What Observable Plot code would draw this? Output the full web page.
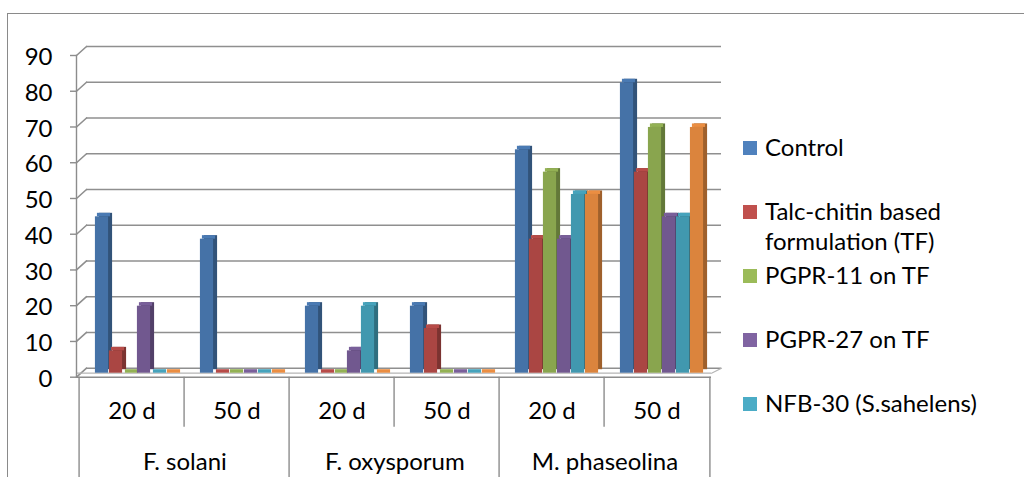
<!DOCTYPE html>
<html>
<head>
<meta charset="utf-8">
<script src="https://cdn.jsdelivr.net/npm/d3@7"></script>
<script src="https://cdn.jsdelivr.net/npm/@observablehq/plot@0.6"></script>
<style>
  html, body { margin: 0; padding: 0; background: #fff; }
  body { width: 1024px; height: 477px; overflow: hidden; position: relative; font-family: Lato, "Open Sans", sans-serif; }
  #chart { position: absolute; left: 0; top: 0; }
  #border { position: absolute; left: 7px; top: 13px; width: 1100px; height: 600px; border: 1px solid #8a8a8a; box-sizing: border-box; pointer-events: none; }
  #legend { position: absolute; left: 743px; top: 0; }
  .item { position: absolute; left: 0; width: 270px; font-size: 24px; line-height: 30px; color: #000; }
  .key { position: absolute; left: 0; top: 9px; width: 14px; height: 14px; }
  .label { margin-left: 22px; }
</style>
</head>
<body>
<div id="chart"></div>
<div id="legend"></div>
<div id="border"></div>
<script>
// Disease incidence (%) by pathogen and sampling day
const pathogens = ["F. solani", "F. oxysporum", "M. phaseolina"];
const days = ["20 d", "50 d"];
const seriesNames = [
  "Control",
  "Talc-chitin based formulation (TF)",
  "PGPR-11 on TF",
  "PGPR-27 on TF",
  "NFB-30 (S.sahelens)",
  "Treatment 6"
];
// one value per pathogen/day group: F. solani 20 d, 50 d, F. oxysporum 20 d, 50 d, M. phaseolina 20 d, 50 d
const control   = [43.75, 37.5, 18.75, 18.75, 62.5, 81.25];
const talcTF    = [6.25, 0, 0, 12.5, 37.5, 56.25];
const pgpr11    = [0, 0, 0, 0, 56.25, 68.75];
const pgpr27    = [18.75, 0, 6.25, 0, 37.5, 43.75];
const nfb30     = [0, 0, 18.75, 0, 50, 43.75];
const treatment6 = [0, 0, 0, 0, 50, 68.75];
const yTicks = [0, 10, 20, 30, 40, 50, 60, 70, 80, 90];

const seriesValues = [control, talcTF, pgpr11, pgpr27, nfb30, treatment6];
const legendCount = 5; // entries visible in the legend box

const frontColors  = ["#4572A7", "#AA4643", "#89A54E", "#71588F", "#4198AF", "#DB843D"];
const legendColors = ["#4F81BD", "#C0504D", "#9BBB59", "#8064A2", "#4BACC6", "#F79646"];
const gridColor = "#8f8f8f";
const axisColor = "#8c8c8c";

// group keys "pathogen|day"
const groupKeys = pathogens.flatMap(p => days.map(d => `${p}|${d}`));
const rows = seriesValues.map((vals, si) =>
  vals.map((v, gi) => ({group: groupKeys[gi], series: seriesNames[si], value: v}))
);

// layout
const W = 1024, H = 477, ML = 76, MR = 313, MT = 55, MB = 100.3;
const bw = (W - ML - MR) / groupKeys.length;
const barW = 14;
const pad = (bw - barW * seriesValues.length) / 2;
const shiftX = 5, shiftY = -4;     // bars sit mid-depth on the floor
const sideX = 4, sideY = -3.5;     // bar extrusion
const wallX = 10, wallY = -9;      // depth of the back wall

const edgeShape = {draw(context, l) { context.moveTo(0, 0); context.lineTo(0, -l); }};
const angle = (dx, dy) => Math.atan2(dx, -dy) * 180 / Math.PI;

const marks = [];

// back wall gridlines and left wall edges
marks.push(Plot.ruleY(yTicks, {dx: wallX, dy: wallY, stroke: gridColor, strokeWidth: 1.6}));
marks.push(Plot.vector(yTicks, {
  y: d => d, frameAnchor: "left", anchor: "start",
  length: Math.hypot(wallX, wallY), rotate: angle(wallX, wallY),
  shape: edgeShape, fill: "none", stroke: gridColor, strokeWidth: 1.6
}));

// floor slab
marks.push(Plot.ruleY([0], {dy: shiftY, stroke: "#b5b5b5", strokeWidth: 1.2}));
marks.push(Plot.vector([0], {
  y: d => d, frameAnchor: "right", anchor: "start", dy: shiftY,
  length: Math.hypot(wallX, wallY - shiftY), rotate: angle(wallX, wallY - shiftY),
  shape: edgeShape, fill: "none", stroke: "#b5b5b5", strokeWidth: 1.2
}));

const insets = i => ({insetLeft: pad + barW * i, insetRight: bw - pad - barW * (i + 1)});

// bar sides (extruded copy)
rows.forEach((data, i) => marks.push(Plot.barY(data, {
  x: "group", y: "value", ...insets(i),
  fill: d3.color(frontColors[i]).darker(0.9).formatHex(),
  dx: shiftX + sideX, dy: shiftY + sideY
})));
// bar tops
rows.forEach((data, i) => marks.push(Plot.barY(data, {
  x: "group", y1: "value", y2: "value", ...insets(i), insetTop: sideY,
  fill: d3.color(frontColors[i]).brighter(0.2).formatHex(),
  dx: shiftX + sideX / 2, dy: shiftY
})));
// bar fronts
rows.forEach((data, i) => marks.push(Plot.barY(data, {
  x: "group", y: "value", ...insets(i),
  fill: frontColors[i], dx: shiftX, dy: shiftY
})));

// value axis
marks.push(Plot.ruleY([0], {stroke: axisColor, strokeWidth: 1.4}));
marks.push(Plot.frame({anchor: "left", stroke: axisColor, strokeWidth: 1.4}));
marks.push(Plot.axisY({ticks: yTicks, tickSize: 6, tickFormat: () => "", stroke: axisColor, strokeWidth: 1.4, label: null}));
marks.push(Plot.text(yTicks, {
  y: d => d, frameAnchor: "left", text: d => String(d),
  textAnchor: "end", dx: -24, dy: 2, fontSize: 24, fill: "#000"
}));

// category separators
const firstDayKeys = groupKeys.filter(k => k.endsWith(days[0]));
const secondDayKeys = groupKeys.filter(k => k.endsWith(days[1]));
marks.push(Plot.axisX({ticks: firstDayKeys, dx: -bw / 2, tickSize: MB, tickFormat: () => "", stroke: axisColor, strokeWidth: 1.4, label: null}));
marks.push(Plot.axisX({ticks: [groupKeys[groupKeys.length - 1]], dx: bw / 2, tickSize: MB, tickFormat: () => "", stroke: axisColor, strokeWidth: 1.4, label: null}));
marks.push(Plot.axisX({ticks: secondDayKeys, dx: -bw / 2, tickSize: MB / 2, tickFormat: () => "", stroke: axisColor, strokeWidth: 1.4, label: null}));

// category labels
marks.push(Plot.axisX({ticks: groupKeys, tickSize: 0, tickPadding: 25, tickFormat: k => k.split("|")[1], fontSize: 24, fill: "#000", label: null}));
marks.push(Plot.axisX({ticks: firstDayKeys, dx: bw / 2, tickSize: 0, tickPadding: 76, tickFormat: k => k.split("|")[0], fontSize: 24, fill: "#000", label: null}));

const chart = Plot.plot({
  width: W, height: H,
  marginLeft: ML, marginRight: MR, marginTop: MT, marginBottom: MB,
  x: {type: "band", domain: groupKeys, padding: 0, label: null},
  y: {domain: [0, 90], label: null},
  style: {fontFamily: "Lato, 'Open Sans', sans-serif", fontSize: "24px", color: "#000", background: "none", overflow: "visible"},
  marks
});
document.getElementById("chart").append(chart);

// legend
const legend = document.getElementById("legend");
const legendTop = 132.4, legendStep = 64;
seriesNames.slice(0, legendCount).forEach((name, i) => {
  const item = document.createElement("div");
  item.className = "item";
  item.style.top = `${legendTop + i * legendStep}px`;
  const key = document.createElement("div");
  key.className = "key";
  key.style.background = legendColors[i];
  const label = document.createElement("div");
  label.className = "label";
  label.textContent = name;
  item.append(key, label);
  legend.append(item);
});
</script>
</body>
</html>
